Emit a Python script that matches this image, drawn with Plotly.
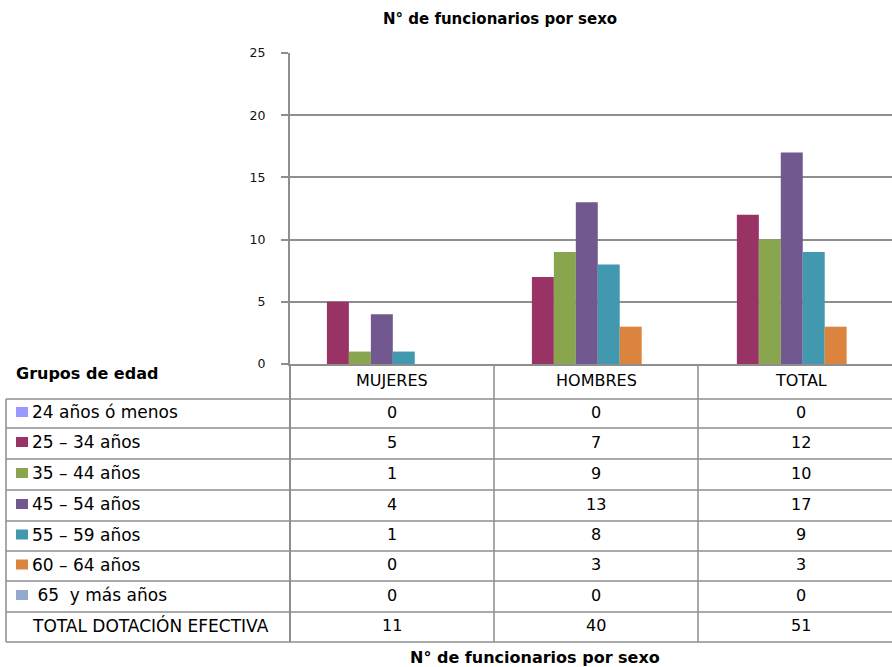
import plotly.graph_objects as go

# ---------------- data ----------------
categories = ["MUJERES", "HOMBRES", "TOTAL"]
age_groups = ["24 años ó menos", "25 – 34 años", "35 – 44 años", "45 – 54 años",
              "55 – 59 años", "60 – 64 años", " 65  y más años"]
v_24_menos = [0, 0, 0]
v_25_34 = [5, 7, 12]
v_35_44 = [1, 9, 10]
v_45_54 = [4, 13, 17]
v_55_59 = [1, 8, 9]
v_60_64 = [0, 3, 3]
v_65_mas = [0, 0, 0]
total_label = "TOTAL DOTACIÓN EFECTIVA"
totals = [11, 40, 51]
y_ticks = [0, 5, 10, 15, 20, 25]
title_text = "N° de funcionarios por sexo"
table_title = "Grupos de edad"

series_values = [v_24_menos, v_25_34, v_35_44, v_45_54, v_55_59, v_60_64, v_65_mas]
colors = ["#9999FF", "#993366", "#89A54E", "#71588F", "#4198AF", "#DB843D", "#93A9CF"]

# ---------------- geometry (pixels) ----------------
W, H = 892, 667
L, R, T, B = 290, 892, 53, 364
GRID = "#8E8E8E"
FONT = "DejaVu Sans"


def xp(px):
    return (px - L) / (R - L)


def yp(py):
    return (B - py) / (B - T)


fig = go.Figure()
for name, vals, col in zip(age_groups, series_values, colors):
    fig.add_trace(go.Bar(x=categories, y=vals, name=name, marker=dict(color=col, line=dict(width=0)),
                         showlegend=False))

fig.update_layout(
    width=W, height=H,
    margin=dict(l=L, r=W - R, t=T, b=H - B, pad=0),
    paper_bgcolor="white", plot_bgcolor="white",
    barmode="group", bargap=0.25, bargroupgap=0,
    font=dict(family=FONT, color="#000000"),
    xaxis=dict(type="category", range=[-0.448, 2.489], showticklabels=False, ticks="",
               showgrid=False, showline=True, linecolor=GRID, linewidth=2, zeroline=False,
               fixedrange=True),
    yaxis=dict(range=[0, 25], tickvals=y_ticks, showgrid=True, gridcolor=GRID, gridwidth=1.5,
               showline=True, linecolor=GRID, linewidth=2, ticks="outside", ticklen=7,
               tickcolor=GRID, tickwidth=1.5, zeroline=False,
               tickfont=dict(family=FONT, size=12.5, color="#111111"), ticklabelstandoff=13),
)

# Title
fig.add_annotation(text="<b>" + title_text + "</b>", xref="paper", yref="paper",
                   x=xp(500), y=yp(19), xanchor="center", yanchor="middle", showarrow=False,
                   font=dict(family=FONT, size=15, color="#000000"))

# ---------------- data table ----------------
row_lines = [399, 428, 459, 490, 521, 551, 581, 612, 642]
col_lines = [494, 698]
for py in row_lines:
    fig.add_shape(type="line", xref="paper", yref="paper", x0=xp(6), x1=xp(892), y0=yp(py), y1=yp(py),
                  line=dict(color=GRID, width=1.5))
fig.add_shape(type="line", xref="paper", yref="paper", x0=xp(6), x1=xp(6), y0=yp(399), y1=yp(642),
              line=dict(color=GRID, width=1.5))
fig.add_shape(type="line", xref="paper", yref="paper", x0=xp(290), x1=xp(290), y0=yp(364), y1=yp(642),
              line=dict(color=GRID, width=2))
for px in col_lines:
    fig.add_shape(type="line", xref="paper", yref="paper", x0=xp(px), x1=xp(px), y0=yp(364), y1=yp(642),
                  line=dict(color=GRID, width=1.5))

col_centers = [392, 596, 801]
for cat, cx in zip(categories, col_centers):
    fig.add_annotation(text=cat, xref="paper", yref="paper", x=xp(cx), y=yp(381),
                       xanchor="center", yanchor="middle", showarrow=False,
                       font=dict(family=FONT, size=16, color="#000000"))

row_centers = [(row_lines[i] + row_lines[i + 1]) / 2 - 1.5 for i in range(len(row_lines) - 1)]
for i, (name, vals, col) in enumerate(zip(age_groups, series_values, colors)):
    cy = row_centers[i]
    fig.add_shape(type="rect", xref="paper", yref="paper", x0=xp(16), x1=xp(28),
                  y0=yp(cy - 5), y1=yp(cy + 5), line=dict(width=0), fillcolor=col)
    fig.add_annotation(text=name.replace(" ", "\u00a0"), xref="paper", yref="paper", x=xp(30), y=yp(cy),
                       xanchor="left", yanchor="middle", showarrow=False,
                       font=dict(family=FONT, size=17, color="#000000"))
    for v, cx in zip(vals, col_centers):
        fig.add_annotation(text=str(v), xref="paper", yref="paper", x=xp(cx), y=yp(cy),
                           xanchor="center", yanchor="middle", showarrow=False,
                           font=dict(family=FONT, size=16, color="#000000"))

cy = row_centers[-1]
fig.add_annotation(text=total_label, xref="paper", yref="paper", x=xp(30), y=yp(cy),
                   xanchor="left", yanchor="middle", showarrow=False,
                   font=dict(family=FONT, size=17, color="#000000"))
for v, cx in zip(totals, col_centers):
    fig.add_annotation(text=str(v), xref="paper", yref="paper", x=xp(cx), y=yp(cy),
                       xanchor="center", yanchor="middle", showarrow=False,
                       font=dict(family=FONT, size=16, color="#000000"))

fig.add_annotation(text="<b>" + table_title + "</b>", xref="paper", yref="paper", x=xp(14), y=yp(374),
                   xanchor="left", yanchor="middle", showarrow=False,
                   font=dict(family=FONT, size=16, color="#000000"))

fig.add_annotation(text="<b>" + title_text + "</b>", xref="paper", yref="paper", x=xp(535), y=yp(657),
                   xanchor="center", yanchor="middle", showarrow=False,
                   font=dict(family=FONT, size=16, color="#000000"))

fig.write_html("out.html")
